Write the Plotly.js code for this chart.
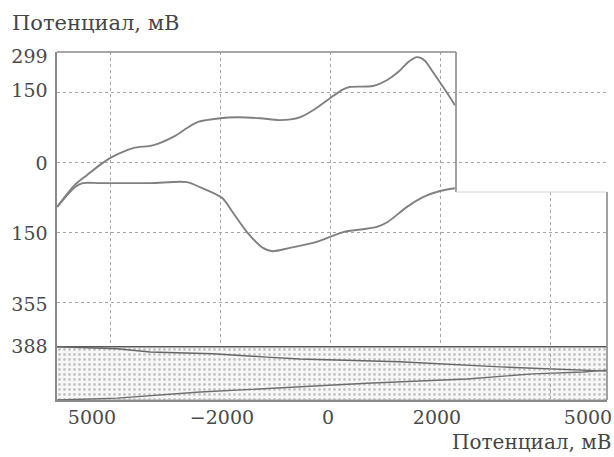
<!DOCTYPE html>
<html>
<head>
<meta charset="utf-8">
<script src="https://cdn.plot.ly/plotly-3.0.1.min.js"></script>
<style>html,body{margin:0;padding:0;background:#fff}#chart{width:614px;height:457px}</style>
</head>
<body>
<div id="chart"></div>
<script>
// Upper curve
var upperX = [-4960, -4640, -4420, -4180, -3960, -3580, -3220, -2850, -2600, -2400, -2000, -1690, -1270, -910, -550, -310, 0, 240, 360, 780, 1040, 1250, 1430, 1580, 1720, 1870, 2130, 2270];
var upperY = [-96, -49, -28, -6, 11, 30, 36, 54, 73, 86, 94, 96, 94, 90, 96, 111, 137, 156, 161, 163, 176, 194, 215, 225, 218, 193, 148, 122];
// Lower curve
var lowerX = [-4960, -4640, -4500, -4180, -3270, -2600, -2360, -1960, -1760, -1510, -1220, -1050, -730, -240, 240, 600, 850, 1040, 1400, 1690, 2000, 2270];
var lowerY = [-96, -54, -45, -45, -45, -43, -54, -77, -109, -150, -184, -191, -184, -171, -150, -144, -139, -129, -96, -75, -62, -56];
// Band (shaded strip) and its two lines
var bandX = [-4964, 5036];
var bandTop = [-396, -396];
var bandBottom = [-510, -510];
var decX = [-4960, -3870, -3270, -2130, -1150, -550, 1270, 3090, 4600, 5036];
var decY = [-396, -400, -407, -411, -418, -422, -428, -439, -446, -448];
var incX = [-4960, -3870, -2360, -550, 670, 2490, 3690, 4600, 5036];
var incY = [-510, -506, -493, -482, -474, -465, -454, -450, -446];
// Ticks
var xTickVals = [-4327, -1964, -36, 1945, 4691];
var xTickText = ["5000", "\u22122000", "0", "2000", "5000"];
var xGridVals = [-4000, -2000, 0, 2000];
var xGridValsLower = [4000];
var yTickVals = [227, 154, -2, -152, -305, -396];
var yTickText = ["299", "150", "0", "150", "355", "388"];
var yGridVals = [150, 0, -150, -300];
var axisTitle = "Потенциал, мВ";

var FONT = "DejaVu Serif, Liberation Serif, serif";
var curveColor = "#808080";
var gridColor = "#a6a6a6";

var traces = [
  {x: bandX, y: bandBottom, mode: "lines", line: {color: "#aaa", width: 1}, hoverinfo: "skip", showlegend: false},
  {x: bandX, y: bandTop, mode: "lines", fill: "tonexty", fillcolor: "rgba(240,240,240,0.6)",
   fillpattern: {shape: ".", fgcolor: "#c4c4c4", bgcolor: "#f7f7f7", size: 5, solidity: 0.25},
   line: {color: "#5a5a5a", width: 1.5}, hoverinfo: "skip", showlegend: false},
  {x: decX, y: decY, mode: "lines", line: {color: "#666", width: 1.4}, showlegend: false},
  {x: incX, y: incY, mode: "lines", line: {color: "#6e6e6e", width: 1.4}, showlegend: false},
  {x: upperX, y: upperY, mode: "lines", line: {color: curveColor, width: 1.9, shape: "spline", smoothing: 0.8}, showlegend: false},
  {x: lowerX, y: lowerY, mode: "lines", line: {color: curveColor, width: 1.9, shape: "spline", smoothing: 0.8}, showlegend: false},
  {x: [], y: [], xaxis: "x2", yaxis: "y2", mode: "lines", hoverinfo: "skip", showlegend: false}
];

var bx = (456 - 57) / 550;   // right edge of the upper box (paper)
var by = (400 - 192) / 348;  // step height (paper)
var border = {color: "#8a8a8a", width: 1.6};

var layout = {
  width: 614, height: 457,
  margin: {l: 57, r: 7, t: 52, b: 57},
  paper_bgcolor: "#fff", plot_bgcolor: "rgba(0,0,0,0)",
  showlegend: false,
  font: {family: FONT, size: 19, color: "#4a4a4a"},
  title: {text: axisTitle, xref: "container", yref: "container", x: 12/614, xanchor: "left",
          y: 1 - 23/457, yanchor: "middle", font: {family: FONT, size: 21, color: "#454545"}},
  xaxis: {
    range: [-4964, 5036], showgrid: false, zeroline: false,
    showline: true, linecolor: "#8a8a8a", linewidth: 1.6,
    tickmode: "array", tickvals: xTickVals, ticktext: xTickText,
    ticks: "outside", ticklen: 0, ticklabelstandoff: 0,
    tickfont: {family: FONT, size: 19, color: "#4a4a4a"},
    minor: {tickmode: "array", tickvals: xGridVals, ticks: "inside", ticklen: 0,
            showgrid: true, gridcolor: gridColor, griddash: "dot", gridwidth: 1}
  },
  yaxis: {
    range: [-510, 236], showgrid: false, zeroline: false,
    showline: true, linecolor: "#8a8a8a", linewidth: 1.6,
    tickmode: "array", tickvals: yTickVals, ticktext: yTickText,
    ticks: "outside", ticklen: 0, ticklabelstandoff: 4,
    tickfont: {family: FONT, size: 19, color: "#4a4a4a"},
    minor: {tickmode: "array", tickvals: yGridVals, ticks: "inside", ticklen: 0,
            showgrid: true, gridcolor: gridColor, griddash: "dot", gridwidth: 1}
  },
  xaxis2: {
    range: [-4964, 5036], anchor: "y2", domain: [0, 1],
    tickmode: "array", tickvals: xGridValsLower, showticklabels: false, ticks: "",
    showgrid: true, gridcolor: gridColor, griddash: "dot", gridwidth: 1,
    zeroline: false, showline: false
  },
  yaxis2: {
    range: [0, 1], anchor: "x2", domain: [0, by],
    showgrid: false, showticklabels: false, ticks: "", zeroline: false, showline: false
  },
  shapes: [
    {type: "rect", layer: "between", xref: "paper", yref: "paper", x0: bx + 0.002, x1: 1.0, y0: by, y1: 1.0,
     fillcolor: "#fff", line: {width: 0}},
    {type: "line", xref: "paper", yref: "paper", x0: 0, x1: bx, y0: 1, y1: 1, line: border},
    {type: "line", xref: "paper", yref: "paper", x0: bx, x1: bx, y0: 1, y1: by, line: border},
    {type: "line", xref: "paper", yref: "paper", x0: bx, x1: 1, y0: by, y1: by, line: {color: "#d4d4d4", width: 1}},
    {type: "line", xref: "paper", yref: "paper", x0: 1, x1: 1, y0: by, y1: 0, line: border}
  ],
  annotations: [
    {text: axisTitle, xref: "paper", yref: "paper", x: 1.012, xanchor: "right",
     y: (400 - 442) / 348, yanchor: "middle", showarrow: false,
     font: {family: FONT, size: 20, color: "#454545"}}
  ]
};

Plotly.newPlot("chart", traces, layout, {staticPlot: true, displayModeBar: false});
</script>
</body>
</html>
